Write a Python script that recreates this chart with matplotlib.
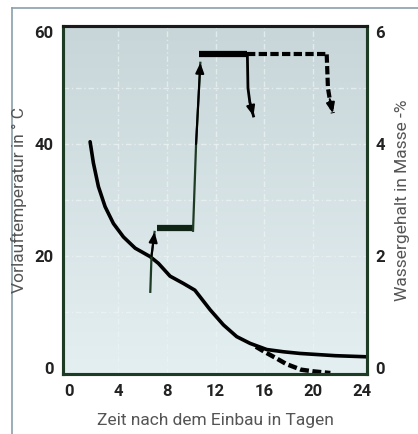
import numpy as np
import matplotlib
matplotlib.use("Agg")
import matplotlib.pyplot as plt
from matplotlib.colors import LinearSegmentedColormap
from matplotlib.lines import Line2D

# temperature curve (left axis, deg C)
temp_days = [1.72, 1.99, 2.40, 2.95, 3.63, 4.45, 5.41, 6.63, 7.31, 8.27, 9.36, 10.3,
             10.73, 11.55, 12.64, 13.73, 14.82, 16.19, 17.55, 18.92, 21.8, 24.4]
temp_vals = [40.4, 36.6, 32.4, 28.8, 25.8, 23.4, 21.4, 19.9, 18.7, 16.4, 15.1, 13.9,
             12.7, 10.4, 7.7, 5.6, 4.4, 3.3, 2.9, 2.6, 2.2, 2.0]
# dashed branch of temperature
temp_dash_days = [15.3, 16.0, 17.0, 17.8, 19.0, 20.0, 21.4]
temp_dash_vals = [3.8, 2.9, 1.7, 0.7, -0.3, -0.6, -0.9]

# water content (right axis, mass-%)
rise1_days = [6.65, 6.75, 7.0]
rise1_vals = [1.36, 2.0, 2.43]
step1_days = [7.2, 10.2]
step1_vals = [2.5, 2.5]
rise2_days = [10.15, 10.4, 10.75]
rise2_vals = [2.45, 4.0, 5.45]
step2_days = [10.6, 14.6]
step2_vals = [5.6, 5.6]
drop1_days = [14.6, 14.65, 14.8, 15.1]
drop1_vals = [5.6, 5.0, 4.75, 4.5]
dash_h_days = [14.6, 21.1]
dash_h_vals = [5.6, 5.6]
drop2_days = [21.1, 21.2, 21.35, 21.6]
drop2_vals = [5.6, 5.0, 4.8, 4.55]

x_ticks = [0, 4, 8, 12, 16, 20, 24]
left_ticks = [0, 20, 40, 60]
right_ticks = [0, 2, 4, 6]

tick_font = dict(family="Roboto", weight="bold", size=12)
ink = "#222222"
green = "#1e3b24"

fig = plt.figure(figsize=(4.18, 4.34), dpi=100)
ax = fig.add_axes([63 / 418, 60 / 434, 304 / 418, 348 / 434])
ax2 = ax.twinx()

# background gradient
cmap = LinearSegmentedColormap.from_list("bg", ["#c8d6d9", "#e4eff1"])
grad = np.linspace(0, 1, 256).reshape(-1, 1)
ax.imshow(grad, extent=[0, 1, 0, 1], transform=ax.transAxes, aspect="auto",
          cmap=cmap, zorder=0, origin="upper")

ax.set_xlim(-0.5, 24.4)
ax.set_ylim(-1.07, 61.07)
ax2.set_ylim(-0.107, 6.107)

for gx in x_ticks[1:-1]:
    ax.axvline(gx, color="#eef4f5", lw=1.0, ls=(0, (4, 2, 1, 2)), alpha=0.7, zorder=1)
for gy in [10, 20, 30, 40, 50]:
    ax.axhline(gy, color="#eef4f5", lw=1.0, ls=(0, (4, 2, 1, 2)), alpha=0.7, zorder=1)

ax.plot(temp_days, temp_vals, color="black", lw=2.6, zorder=3,
        solid_capstyle="round", solid_joinstyle="round")
ax.plot(temp_dash_days, temp_dash_vals, color="black", lw=3.2, ls=(0, (2.0, 0.8)), zorder=3)

ax2.plot(rise1_days, rise1_vals, color=green, lw=1.6, zorder=3)
ax2.plot(step1_days, step1_vals, color="#0f2414", lw=4.5, zorder=3, solid_capstyle="butt")
ax2.plot(rise2_days, rise2_vals, color=green, lw=1.6, zorder=3)
ax2.plot(step2_days, step2_vals, color="black", lw=4.5, zorder=3, solid_capstyle="butt")
ax2.plot(drop1_days, drop1_vals, color="black", lw=2.0, zorder=3)
ax2.plot(dash_h_days, dash_h_vals, color="black", lw=3.0, ls=(0, (2.0, 0.8)), zorder=3)
ax2.plot(drop2_days, drop2_vals, color="black", lw=3.0, ls=(0, (2.0, 0.8)), zorder=3)

# arrow heads
for dx, dy in [(rise1_days, rise1_vals), (rise2_days, rise2_vals),
               (drop1_days, drop1_vals), (drop2_days, drop2_vals)]:
    ax2.annotate("", xy=(dx[-1], dy[-1]), xytext=(dx[-2], dy[-2]),
                 arrowprops=dict(arrowstyle="-|>,head_length=0.6,head_width=0.25",
                                 color="black", lw=1.5, shrinkA=0, shrinkB=0),
                 zorder=4)

ax.set_xticks(x_ticks)
ax.set_yticks(left_ticks)
ax2.set_yticks(right_ticks)
ax.set_xticklabels([str(t) for t in x_ticks], **tick_font, color=ink)
ax.set_yticklabels([str(t) for t in left_ticks], **tick_font, color=ink)
ax2.set_yticklabels([str(t) for t in right_ticks], **tick_font, color=ink)
ax.tick_params(axis="x", length=0, pad=7)
ax.tick_params(axis="y", length=0, pad=7)
ax2.tick_params(axis="y", length=0, pad=6)

for a in (ax, ax2):
    a.spines["left"].set_color(green)
    a.spines["bottom"].set_color(green)
    a.spines["right"].set_color(green)
    a.spines["top"].set_color("#1a1a1a")
    for s in a.spines.values():
        s.set_linewidth(2.2)

label_font = dict(family="Roboto", weight="normal", size=12.5, color="#555555")
fig.text(19 / 418, 1 - 200 / 434, "Vorlauftemperatur in ° C", rotation=90,
         ha="center", va="center", **label_font)
fig.text(403 / 418, 1 - 200 / 434, "Wassergehalt in Masse -%", rotation=90,
         ha="center", va="center", **label_font)
fig.text(215 / 418, 1 - 420 / 434, "Zeit nach dem Einbau in Tagen",
         ha="center", va="center", **label_font)

# outer panel frame
fig.add_artist(Line2D([12 / 418, 12 / 418], [0, 1 - 8 / 434], color="#8aa0ab", lw=1.2))
fig.add_artist(Line2D([12 / 418, 1], [1 - 8 / 434, 1 - 8 / 434], color="#8aa0ab", lw=1.2))

fig.savefig("out.png", dpi=100)
